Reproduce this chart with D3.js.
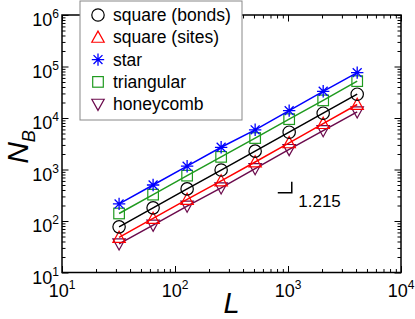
<!DOCTYPE html>
<html lang="en">
<head>
<meta charset="UTF-8">
<title>N_B vs L</title>
<style>
  body { margin: 0; background: #fff; }
  svg text { font-family: "Liberation Sans", Arial, sans-serif; }
</style>
</head>
<body>
<svg id="graph"></svg>
<script src="https://d3js.org/d3.v7.min.js"></script>
<script>
// data
const sizes = [32, 64, 128, 256, 512, 1024, 2048, 4096];
const squareBonds = [77, 180, 420, 975, 2270, 5300, 12400, 29000];
const squareSites = [48, 112, 262, 600, 1400, 3300, 7800, 18300];
const star = [215, 500, 1160, 2700, 5900, 13900, 33000, 76000];
const triangular = [140, 325, 760, 1760, 4080, 9500, 22000, 52000];
const honeycomb = [36, 83, 195, 440, 1040, 2450, 5700, 13200];

const seriesNames = ['square (bonds)', 'square (sites)', 'star', 'triangular', 'honeycomb'];
const xTicks = [10, 100, 1000, 10000];
const yTicks = [10, 100, 1000, 10000, 100000, 1000000];
const slopeLabel = '1.215';

const series = [
  { name: seriesNames[0], values: squareBonds, color: '#000000', symbol: 'circle' },
  { name: seriesNames[1], values: squareSites, color: '#ff0000', symbol: 'up' },
  { name: seriesNames[2], values: star, color: '#0000ff', symbol: 'star' },
  { name: seriesNames[3], values: triangular, color: '#1f9a1f', symbol: 'square' },
  { name: seriesNames[4], values: honeycomb, color: '#6b0a4c', symbol: 'down' }
];

const width = 415, height = 319;
const margin = { top: 15, right: 14, bottom: 46.5, left: 62 };
const plotW = width - margin.left - margin.right;
const plotH = height - margin.top - margin.bottom;

const svg = d3.select('#graph').attr('width', width).attr('height', height);
const g = svg.append('g').attr('transform', `translate(${margin.left},${margin.top})`);

const x = d3.scaleLog().domain([10, 10000]).range([0, plotW]);
const y = d3.scaleLog().domain([10, 1000000]).range([plotH, 0]);

// ticks (inward, on all four sides)
function addAxis(axisFn, scale, values, size, transform) {
  const a = g.append('g')
    .attr('transform', transform || null)
    .call(axisFn(scale).tickValues(values).tickSize(size).tickSizeOuter(0).tickFormat(''));
  a.select('.domain').remove();
  a.selectAll('line').attr('stroke', '#000').attr('stroke-width', 1);
}
const xMinor = x.ticks().filter(v => !xTicks.includes(v));
const yMinor = y.ticks().filter(v => !yTicks.includes(v));
addAxis(d3.axisBottom, x, xMinor, -3.5, `translate(0,${plotH})`);
addAxis(d3.axisBottom, x, xTicks, -6.5, `translate(0,${plotH})`);
addAxis(d3.axisTop, x, xMinor, -3.5);
addAxis(d3.axisTop, x, xTicks, -6.5);
addAxis(d3.axisLeft, y, yMinor, -3.5);
addAxis(d3.axisLeft, y, yTicks, -6.5);
addAxis(d3.axisRight, y, yMinor, -3.5, `translate(${plotW},0)`);
addAxis(d3.axisRight, y, yTicks, -6.5, `translate(${plotW},0)`);

g.append('rect')
  .attr('width', plotW).attr('height', plotH)
  .attr('fill', 'none').attr('stroke', '#000').attr('stroke-width', 1.5);

// tick labels 10^n
xTicks.forEach(v => {
  const t = g.append('text')
    .attr('x', x(v)).attr('y', plotH + 24)
    .attr('text-anchor', 'middle')
    .attr('font-size', 18);
  t.append('tspan').text('10');
  t.append('tspan').attr('dy', -8).attr('font-size', 12).text(Math.round(Math.log10(v)));
});
yTicks.forEach(v => {
  const t = g.append('text')
    .attr('x', -3).attr('y', y(v) + 11)
    .attr('text-anchor', 'end')
    .attr('font-size', 18);
  t.append('tspan').text('10');
  t.append('tspan').attr('dy', -8).attr('font-size', 12).text(Math.round(Math.log10(v)));
});

// axis titles
svg.append('text')
  .attr('x', margin.left + plotW / 2).attr('y', 313)
  .attr('text-anchor', 'middle')
  .attr('font-size', 29).attr('font-style', 'italic')
  .text('L');
const yt = svg.append('text')
  .attr('transform', 'translate(28,147) rotate(-90)')
  .attr('text-anchor', 'middle')
  .attr('font-size', 30).attr('font-style', 'italic');
yt.append('tspan').text('N');
yt.append('tspan').attr('dy', 7).attr('font-size', 18).text('B');

// markers
function drawSymbol(sel, symbol, color) {
  const s = 6.2;
  if (symbol === 'circle') {
    sel.append('circle').attr('r', s).attr('fill', 'none').attr('stroke', color).attr('stroke-width', 1.2);
  } else if (symbol === 'square') {
    sel.append('rect').attr('x', -5.3).attr('y', -5.3).attr('width', 10.6).attr('height', 10.6)
      .attr('fill', 'none').attr('stroke', color).attr('stroke-width', 1.2);
  } else if (symbol === 'up') {
    sel.append('path').attr('d', `M0,${-s}L${s},${s * 0.8}L${-s},${s * 0.8}Z`)
      .attr('fill', 'none').attr('stroke', color).attr('stroke-width', 1.2);
  } else if (symbol === 'down') {
    sel.append('path').attr('d', `M0,${s}L${s},${-s * 0.8}L${-s},${-s * 0.8}Z`)
      .attr('fill', 'none').attr('stroke', color).attr('stroke-width', 1.2);
  } else if (symbol === 'star') {
    const d = s * 0.72;
    sel.append('path').attr('d', `M${-s},0H${s}M0,${-s}V${s}M${-d},${-d}L${d},${d}M${-d},${d}L${d},${-d}`)
      .attr('fill', 'none').attr('stroke', color).attr('stroke-width', 1.3);
  }
}

const line = d3.line().x(d => x(d[0])).y(d => y(d[1]));
series.slice().reverse().forEach(s => {
  const pts = sizes.map((L, i) => [L, s.values[i]]);
  g.append('path').datum(pts).attr('d', line)
    .attr('fill', 'none').attr('stroke', s.color).attr('stroke-width', 1.5);
  pts.forEach(p => {
    drawSymbol(g.append('g').attr('transform', `translate(${x(p[0])},${y(p[1])})`), s.symbol, s.color);
  });
});

// slope marker (corner near L = 1080)
const cornerX = x(1080);
const sm = g.append('g');
sm.append('path').attr('d', `M${cornerX - 14},177.7H${cornerX}V166.7`)
  .attr('fill', 'none').attr('stroke', '#000').attr('stroke-width', 1.5);
sm.append('text').attr('x', cornerX + 6.5).attr('y', 191.5)
  .attr('font-size', 17).text(slopeLabel);

// legend
const lg = svg.append('g');
lg.append('rect').attr('x', 80).attr('y', 1).attr('width', 162).attr('height', 119)
  .attr('fill', '#fff').attr('stroke', '#888').attr('stroke-width', 1);
series.forEach((s, i) => {
  const cy = 15 + i * 22.3;
  drawSymbol(lg.append('g').attr('transform', `translate(98,${cy})`), s.symbol, s.color);
  lg.append('text').attr('x', 113).attr('y', cy + 6)
    .attr('font-size', 17.5).text(s.name);
});
</script>
</body>
</html>
